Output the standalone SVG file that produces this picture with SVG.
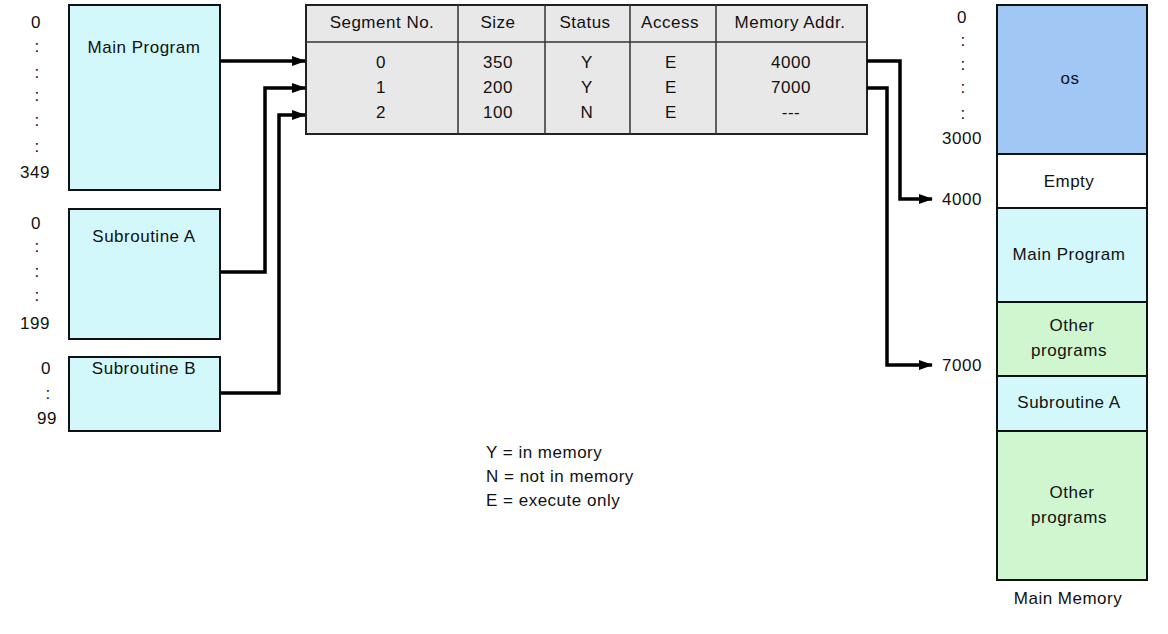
<svg xmlns="http://www.w3.org/2000/svg" width="1168" height="634" viewBox="0 0 1168 634">
<style>
text{font-family:"Liberation Sans",Arial,sans-serif;font-size:17px;fill:#111;text-anchor:middle;letter-spacing:0.5px}
.l{text-anchor:start}
.prog{fill:#d2f8fb;stroke:#111;stroke-width:2}
.os{fill:#a1c8f5;stroke:#111;stroke-width:2}
.oth{fill:#d0f6cf;stroke:#111;stroke-width:2}
.emp{fill:#fff;stroke:#111;stroke-width:2}
.tbl{fill:#e8e8e8;stroke:#222;stroke-width:2}
.ln{stroke:#333;stroke-width:1.5}
.c{fill:none;stroke:#000;stroke-width:3.5}
</style>
<defs>
<marker id="ah" markerWidth="14" markerHeight="10" refX="13" refY="5" orient="auto" markerUnits="userSpaceOnUse">
<path d="M0,0 L14,5 L0,10 Z" fill="#000"/>
</marker>
</defs>

<g id="main-program">
<rect class="prog" x="69" y="5" width="151" height="185"/>
<text x="144" y="53">Main Program</text>
<text x="36" y="28">0</text>
<text x="37" y="52">:</text>
<text x="37" y="78">:</text>
<text x="37" y="101">:</text>
<text x="37" y="126">:</text>
<text x="37" y="152">:</text>
<text x="35" y="178">349</text>
</g>

<g id="subroutine-a">
<rect class="prog" x="69" y="209" width="151" height="130"/>
<text x="144" y="242">Subroutine A</text>
<text x="36" y="229">0</text>
<text x="37" y="252">:</text>
<text x="37" y="277">:</text>
<text x="37" y="301">:</text>
<text x="35" y="329">199</text>
</g>

<g id="subroutine-b">
<rect class="prog" x="69" y="357" width="151" height="74"/>
<text x="144" y="374">Subroutine B</text>
<text x="46" y="374">0</text>
<text x="48" y="399">:</text>
<text x="47" y="424">99</text>
</g>

<g id="segment-table">
<rect class="tbl" x="306" y="5" width="561" height="129"/>
<line class="ln" x1="306" y1="42" x2="867" y2="42"/>
<line class="ln" x1="458" y1="5" x2="458" y2="134"/>
<line class="ln" x1="545" y1="5" x2="545" y2="134"/>
<line class="ln" x1="630" y1="5" x2="630" y2="134"/>
<line class="ln" x1="716" y1="5" x2="716" y2="134"/>
<text x="382" y="28">Segment No.</text>
<text x="498" y="28">Size</text>
<text x="585" y="28">Status</text>
<text x="670" y="28">Access</text>
<text x="790" y="28">Memory Addr.</text>
<text x="381" y="68">0</text>
<text x="381" y="93">1</text>
<text x="381" y="118">2</text>
<text x="498" y="68">350</text>
<text x="498" y="93">200</text>
<text x="498" y="118">100</text>
<text x="587" y="68">Y</text>
<text x="587" y="93">Y</text>
<text x="587" y="118">N</text>
<text x="671" y="68">E</text>
<text x="671" y="93">E</text>
<text x="671" y="118">E</text>
<text x="791" y="68">4000</text>
<text x="791" y="93">7000</text>
<text x="791" y="118">---</text>
</g>

<g id="main-memory">
<rect class="os" x="997" y="5" width="150" height="149"/>
<text x="1070" y="84">os</text>
<rect class="emp" x="997" y="154" width="150" height="54"/>
<text x="1069" y="187">Empty</text>
<rect class="prog" x="997" y="208" width="150" height="94"/>
<text x="1069" y="260">Main Program</text>
<rect class="oth" x="997" y="302" width="150" height="74"/>
<text x="1072" y="331">Other</text>
<text x="1069" y="356">programs</text>
<rect class="prog" x="997" y="376" width="150" height="55"/>
<text x="1069" y="408">Subroutine A</text>
<rect class="oth" x="997" y="431" width="150" height="149"/>
<text x="1072" y="498">Other</text>
<text x="1069" y="523">programs</text>
<text x="1068" y="604">Main Memory</text>
<text x="962" y="23">0</text>
<text x="963" y="46">:</text>
<text x="963" y="70">:</text>
<text x="963" y="93">:</text>
<text x="963" y="119">:</text>
<text x="962" y="144">3000</text>
<text x="962" y="205">4000</text>
<text x="962" y="371">7000</text>
</g>

<g id="legend">
<text class="l" x="486" y="458">Y = in memory</text>
<text class="l" x="486" y="482">N = not in memory</text>
<text class="l" x="486" y="506">E = execute only</text>
</g>

<g id="connectors">
<path class="c" d="M220,61 H305" marker-end="url(#ah)"/>
<path class="c" d="M220,272 H265 V88 H305" marker-end="url(#ah)"/>
<path class="c" d="M220,393 H279 V115 H305" marker-end="url(#ah)"/>
<path class="c" d="M867,61 H900 V199 H932" marker-end="url(#ah)"/>
<path class="c" d="M867,88 H887 V365 H932" marker-end="url(#ah)"/>
</g>
</svg>
